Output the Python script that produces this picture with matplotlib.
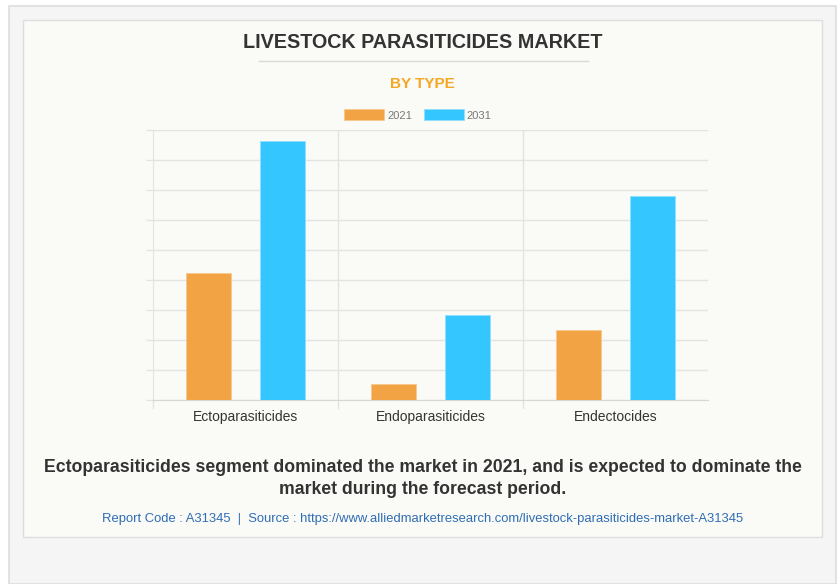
import matplotlib.pyplot as plt
import matplotlib.patches as mpatches
import numpy as np

categories = ["Ectoparasiticides", "Endoparasiticides", "Endectocides"]
years = ["2021", "2031"]
values_2021 = [4.23, 0.53, 2.33]
values_2031 = [8.63, 2.83, 6.8]
colors = ["#F2A444", "#33C6FF"]

W, H = 838, 584
fig = plt.figure(figsize=(W / 100, H / 100), dpi=100)
fig.patch.set_facecolor("white")
plt.rcParams['font.family'] = ['Liberation Sans', 'DejaVu Sans']

def px(x, y):
    return x / W, 1 - y / H

# outer gray panel
fig.patches.append(mpatches.Rectangle(px(9, 584), (836 - 9) / W, (584 - 6) / H,
                                      transform=fig.transFigure, facecolor="#f5f5f5",
                                      edgecolor="#dddddd", lw=1.2, zorder=-3))
# card
fig.patches.append(mpatches.Rectangle(px(23, 537), (822 - 23) / W, (537 - 20) / H,
                                      transform=fig.transFigure, facecolor="#fafaf6",
                                      edgecolor="#dedede", lw=1, zorder=-2))

# title
fig.text(*px(423, 43), "LIVESTOCK PARASITICIDES MARKET", ha="center", va="center",
         fontsize=14.2, fontweight="bold", color="#333333")
fig.add_artist(plt.Line2D([259 / W, 588 / W], [1 - 61 / H, 1 - 61 / H],
                          transform=fig.transFigure, color="#d9d9d9", lw=1))
fig.text(*px(422, 84), "BY TYPE", ha="center", va="center",
         fontsize=11, fontweight="bold", color="#F5A623")

# axes
l, b = px(153, 400)
r, t = px(708, 130)
ax = fig.add_axes([l, b, r - l, t - b])
ax.set_facecolor("none")
x = np.arange(len(categories))
bw = 0.238
off = 0.2
ax.bar(x - off, values_2021, bw, color=colors[0], edgecolor="#f7c98f", lw=0.6, zorder=3, label=years[0])
ax.bar(x + off, values_2031, bw, color=colors[1], edgecolor="#8fdfff", lw=0.6, zorder=3, label=years[1])
ax.set_xlim(-0.5, 2.5)
ax.set_ylim(0, 9)
ax.set_yticks(np.arange(0, 10))
ax.set_yticklabels([])
ax.tick_params(axis="y", length=5, color="#e3e3e3", width=1)
ax.set_xticks(x)
ax.set_xticklabels(categories, fontsize=10, color="#333333")
ax.tick_params(axis="x", length=0, pad=7.5)
ax.grid(axis="y", color="#e3e3e3", lw=1, zorder=0)
for xv in [0.5, 1.5]:
    ax.axvline(xv, ymin=-0.03, ymax=1, color="#e3e3e3", lw=1, clip_on=False, zorder=0)
for s in ["top", "right"]:
    ax.spines[s].set_visible(False)
ax.spines["left"].set_color("#e3e3e3")
ax.spines["left"].set_bounds(0, 9)
ax.axvline(-0.5, ymin=-0.03, ymax=0, color="#e3e3e3", lw=1, clip_on=False)
ax.spines["bottom"].set_color("#d6d6d6")

leg = ax.legend(loc="center", bbox_to_anchor=(px(418, 115)[0], px(418, 115)[1]),
                bbox_transform=fig.transFigure, ncol=2, frameon=False, fontsize=8,
                handlelength=3.6, handleheight=1.1, columnspacing=1.0, handletextpad=0.3)
for txt in leg.get_texts():
    txt.set_color("#777777")

fig.text(*px(423, 468), "Ectoparasiticides segment dominated the market in 2021, and is expected to dominate the",
         ha="center", va="center", fontsize=12.7, fontweight="bold", color="#333333")
fig.text(*px(423, 490), "market during the forecast period.",
         ha="center", va="center", fontsize=12.7, fontweight="bold", color="#333333")
fig.text(*px(423, 519),
         "Report Code : A31345  |  Source : https://www.alliedmarketresearch.com/livestock-parasiticides-market-A31345",
         ha="center", va="center", fontsize=9.4, color="#2f6db5")

fig.savefig("out.png", dpi=100)
